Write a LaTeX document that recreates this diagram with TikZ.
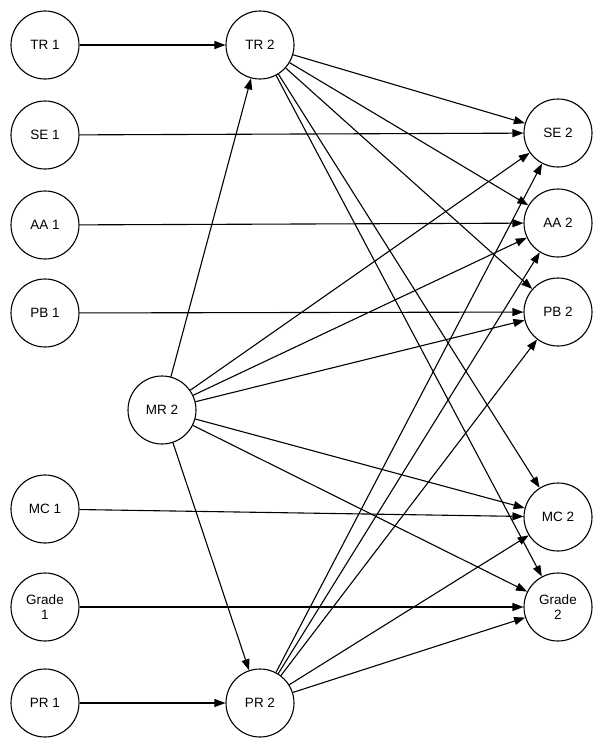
\documentclass[tikz,border=0pt]{standalone}
\usepackage{fontspec}
\setmainfont{Liberation Sans}
\usetikzlibrary{arrows.meta}
\begin{document}
\begin{tikzpicture}[x=1pt,y=-1pt,
  var/.style={circle,draw,line width=1.1pt,minimum size=68pt,inner sep=0pt,align=center,font=\fontsize{13.5}{15}\selectfont},
  arr/.style={line width=1.1pt,-{Triangle[length=11pt,width=8pt]}}]
\useasboundingbox (0,0) rectangle (604,748);
\node[var] (tr1) at (45,45) {TR 1};
\node[var] (se1) at (45,135) {SE 1};
\node[var] (aa1) at (45,225) {AA 1};
\node[var] (pb1) at (45,313) {PB 1};
\node[var] (mc1) at (45,509) {MC 1};
\node[var] (gr1) at (45,607) {Grade\\1};
\node[var] (pr1) at (45,703) {PR 1};
\node[var] (tr2) at (260,45) {TR 2};
\node[var] (mr2) at (162,410) {MR 2};
\node[var] (pr2) at (260,703) {PR 2};
\node[var] (se2) at (558,133) {SE 2};
\node[var] (aa2) at (558,223) {AA 2};
\node[var] (pb2) at (558,312) {PB 2};
\node[var] (mc2) at (558,517) {MC 2};
\node[var] (gr2) at (558,607) {Grade\\2};
\draw[arr] (tr1) -- (tr2);
\draw[arr] (se1) -- (se2);
\draw[arr] (aa1) -- (aa2);
\draw[arr] (pb1) -- (pb2);
\draw[arr] (mc1) -- (mc2);
\draw[arr] (gr1) -- (gr2);
\draw[arr] (pr1) -- (pr2);
\draw[arr] (mr2) -- (tr2);
\draw[arr] (mr2) -- (pr2);
\foreach \s in {tr2,mr2,pr2}{
  \foreach \t in {se2,aa2,pb2,mc2,gr2}{
    \draw[arr] (\s) -- (\t);
  }
}
\end{tikzpicture}
\end{document}
